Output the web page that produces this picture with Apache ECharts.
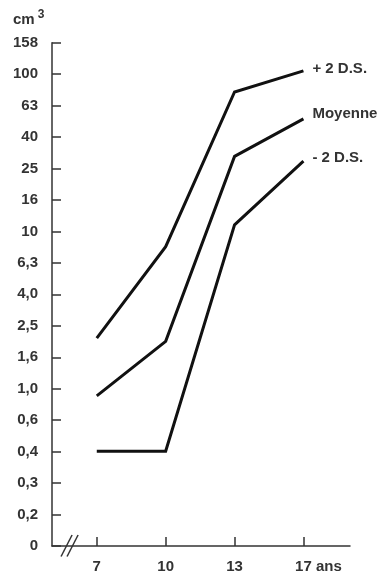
<!DOCTYPE html>
<html>
<head>
<meta charset="utf-8">
<script src="https://cdn.jsdelivr.net/npm/echarts@6/dist/echarts.min.js"></script>
<style>
  html, body { margin: 0; padding: 0; background: #fff; }
  #chart { width: 379px; height: 579px; }
</style>
</head>
<body>
<div id="chart"></div>
<script>
// Ages (x categories) and volumes in cm³
const ages = ['7', '10', '13', '17'];
const plus2DS = [2.1, 8.0, 77, 105];
const moyenne = [0.9, 2.0, 30, 52];
const minus2DS = [0.4, 0.4, 11, 28];
const seriesNames = ['+ 2 D.S.', 'Moyenne', '- 2 D.S.'];

// Tick labels of the volume axis, one per grid step
const yTickLabels = ['0', '0,2', '0,3', '0,4', '0,6', '1,0', '1,6', '2,5', '4,0',
  '6,3', '10', '16', '25', '40', '63', '100', '158'];

// Volume axis is logarithmic: five steps per decade, 1 cm³ on step 5
function volToStep(v) { return 5 + 5 * Math.log10(v); }

const font = '"Liberation Sans", Arial, sans-serif';
const textColor = '#333';
const weight = 'bold';

function buildSeries(name, values, offsetY) {
  return {
    name: name,
    type: 'line',
    symbol: 'none',
    silent: true,
    lineStyle: { color: '#111', width: 3, join: 'miter' },
    data: values.map((v, i) => [i, volToStep(v)]),
    endLabel: {
      show: true,
      formatter: '{a}',
      color: textColor,
      fontFamily: font,
      fontWeight: weight,
      fontSize: 15,
      distance: 9,
      offset: [0, offsetY]
    }
  };
}

const chart = echarts.init(document.getElementById('chart'), null, { renderer: 'canvas' });

chart.setOption({
  backgroundColor: '#fff',
  animation: false,
  title: {
    text: '{m|cm}{s|3}',
    left: 13,
    top: 9,
    padding: 0,
    textStyle: {
      fontFamily: font,
      fontWeight: 'normal',
      rich: {
        m: { fontSize: 15, lineHeight: 22, color: textColor, fontFamily: font, fontWeight: weight },
        s: { fontSize: 12, lineHeight: 12, color: textColor, fontFamily: font, fontWeight: weight,
             verticalAlign: 'top', padding: [0, 0, 0, 3] }
      }
    }
  },
  grid: {
    left: 52, right: 29, top: 42.7, bottom: 33,
    containLabel: false,
    outerBoundsMode: 'none'
  },
  xAxis: {
    type: 'value',
    min: -0.65,
    max: 3.676,
    splitLine: { show: false },
    axisLine: { show: true, onZero: false, lineStyle: { color: '#333', width: 1.5 } },
    axisTick: {
      show: true, inside: true, length: 9,
      customValues: [0, 1, 2, 3],
      lineStyle: { color: '#333', width: 1.5 }
    },
    axisLabel: {
      customValues: [0, 1, 2, 3],
      margin: 13,
      color: textColor,
      fontFamily: font,
      fontWeight: weight,
      fontSize: 15,
      formatter: function (v) {
        const i = Math.round(v);
        if (i === ages.length - 1) {
          // keep "17" centred on its tick, unit trailing after it
          return '{h| ans}' + ages[i] + ' ans';
        }
        return ages[i];
      },
      rich: {
        h: { color: 'transparent', fontSize: 15, fontFamily: font, fontWeight: weight }
      }
    }
  },
  yAxis: {
    type: 'value',
    min: 0,
    max: yTickLabels.length - 1,
    interval: 1,
    splitLine: { show: false },
    axisLine: { show: true, onZero: false, lineStyle: { color: '#333', width: 1.5 } },
    axisTick: { show: true, inside: true, length: 9, lineStyle: { color: '#333', width: 1.5 } },
    axisLabel: {
      margin: 14,
      color: textColor,
      fontFamily: font,
      fontWeight: weight,
      fontSize: 15,
      formatter: function (v) { return yTickLabels[Math.round(v)]; }
    }
  },
  series: [
    buildSeries(seriesNames[0], plus2DS, -2),
    buildSeries(seriesNames[1], moyenne, -5),
    buildSeries(seriesNames[2], minus2DS, -3)
  ]
});

// Axis break mark "//" on the age axis, between the origin and the first age
const bp = chart.convertToPixel({ gridIndex: 0 }, [-0.395, 0]);
const slash = (dx) => ({
  type: 'line',
  shape: { x1: bp[0] - 8.5 + dx, y1: bp[1] + 10.5, x2: bp[0] + 2.5 + dx, y2: bp[1] - 11 },
  style: { stroke: '#333', lineWidth: 1.5 },
  silent: true
});
chart.setOption({ graphic: [slash(0), slash(6)] });
</script>
</body>
</html>
